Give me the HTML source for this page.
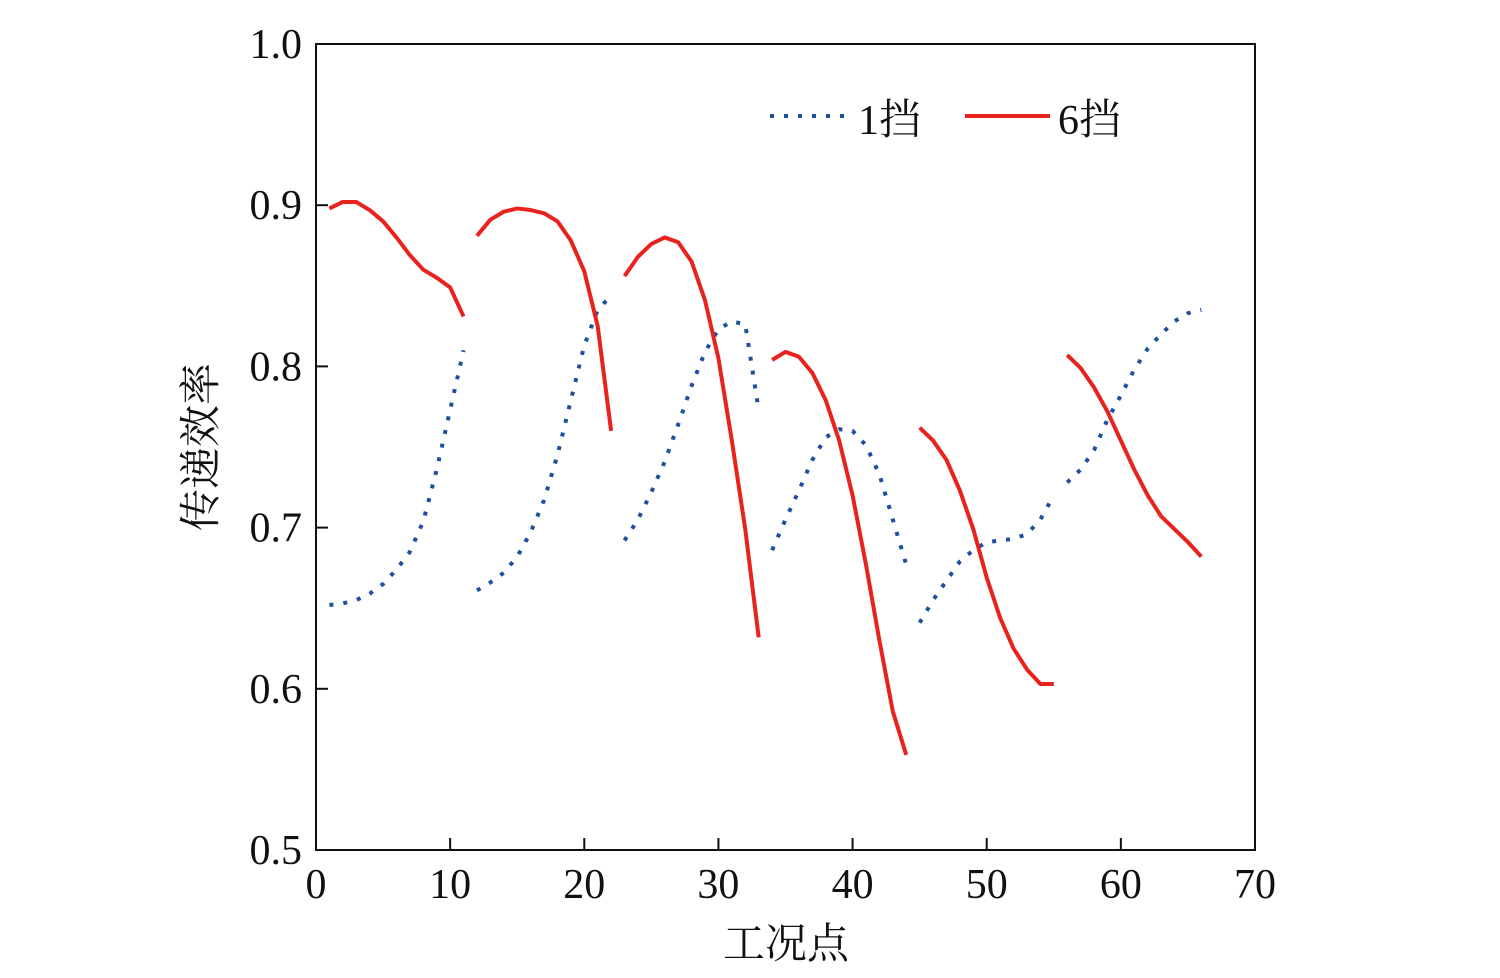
<!DOCTYPE html>
<html><head><meta charset="utf-8"><style>
body{margin:0;background:#fff}
svg text{font-family:"Liberation Serif","Noto Serif CJK SC",serif;fill:#111}
</style></head><body>
<svg id="chart" width="1500" height="973" viewBox="0 0 1500 973" xmlns="http://www.w3.org/2000/svg">
<rect x="316" y="44" width="939" height="806" fill="none" stroke="#111" stroke-width="2"/>
<g id="ticks"></g>
<g id="series"></g>
<text transform="translate(215,447) rotate(-90)" font-size="42" text-anchor="middle">传递效率</text>
<text x="786" y="958" font-size="42" text-anchor="middle">工况点</text>
<g>
<line x1="770" y1="116" x2="850" y2="116" stroke="#1f4fa0" stroke-width="4" stroke-dasharray="4 10"/>
<text x="858" y="134" font-size="42">1挡</text>
<line x1="965" y1="116" x2="1050" y2="116" stroke="#e8231e" stroke-width="4"/>
<text x="1058" y="134" font-size="42">6挡</text>
</g>
</svg>
<script>
const xTicks=[0,10,20,30,40,50,60,70];
const yTicks=[0.5,0.6,0.7,0.8,0.9,1.0];
const yTickLabels=["0.5","0.6","0.7","0.8","0.9","1.0"];
const gear1=[
[0.652,0.653,0.655,0.659,0.665,0.674,0.685,0.704,0.736,0.773,0.810],
[0.661,0.666,0.672,0.682,0.697,0.717,0.745,0.779,0.813,0.835,0.844],
[0.692,0.705,0.722,0.741,0.764,0.788,0.809,0.823,0.828,0.826,0.773],
[0.686,0.705,0.723,0.742,0.756,0.761,0.760,0.751,0.733,0.705,0.677],
[0.641,0.655,0.667,0.679,0.686,0.691,0.692,0.693,0.696,0.705,0.720],
[0.728,0.736,0.748,0.767,0.782,0.798,0.811,0.820,0.828,0.833,0.835]];
const gear6=[
[0.898,0.902,0.902,0.897,0.890,0.880,0.869,0.860,0.855,0.849,0.831],
[0.881,0.891,0.896,0.898,0.897,0.895,0.890,0.878,0.859,0.825,0.760],
[0.856,0.868,0.876,0.880,0.877,0.865,0.841,0.805,0.754,0.699,0.632],
[0.804,0.809,0.806,0.796,0.779,0.754,0.720,0.677,0.630,0.586,0.559],
[0.762,0.754,0.742,0.723,0.699,0.669,0.644,0.625,0.612,0.603,0.603],
[0.807,0.799,0.787,0.772,0.754,0.736,0.720,0.707,0.699,0.691,0.682]];
const NS="http://www.w3.org/2000/svg";
const xs=v=>316+v*(939/70);
const ys=v=>850-(v-0.5)*(806/0.5);
const tg=document.getElementById('ticks'),sg=document.getElementById('series');
function mk(t,a,p){const e=document.createElementNS(NS,t);for(const k in a)e.setAttribute(k,a[k]);p.appendChild(e);return e;}
xTicks.forEach(v=>{
 const l=mk('line',{x1:xs(v),x2:xs(v),y1:850,y2:838,stroke:'#111','stroke-width':2},tg);
 
 
 const t=mk('text',{x:xs(v),y:898,'font-size':42,'text-anchor':'middle'},tg);t.textContent=v;
 
 
});
yTicks.forEach((v,i)=>{
 const l=mk('line',{x1:316,x2:328,y1:ys(v),y2:ys(v),stroke:'#111','stroke-width':2},tg);
 
 
 const t=mk('text',{x:302,y:ys(v)+14,'font-size':42,'text-anchor':'end'},tg);t.textContent=yTickLabels[i];
 
 
});
function draw(data,color,dash,name){
 data.forEach((seg,si)=>{
  const pts=seg.map((v,i)=>xs(si*11+i+1)+','+ys(v)).join(' ');
  const a={points:pts,fill:'none',stroke:color,'stroke-width':4,'stroke-linejoin':'round'};
  if(dash)a['stroke-dasharray']=dash;
  const p=mk('polyline',a,sg);
  
  
 });
}
draw(gear1,'#1f4fa0','4 10','gear1-line');
draw(gear6,'#e8231e',null,'gear6-line');
</script>
</body></html>
